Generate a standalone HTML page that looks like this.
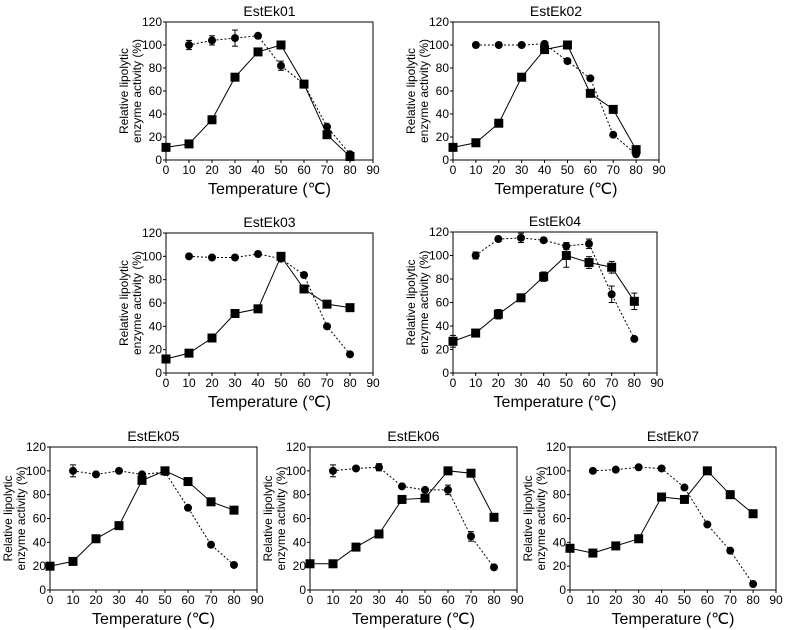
<!DOCTYPE html>
<html><head><meta charset="utf-8"><style>
html,body{margin:0;padding:0;background:#fff;}
svg{display:block;font-family:"Liberation Sans",Arial,sans-serif;}
</style></head><body>
<svg id="chart" width="786" height="630" viewBox="0 0 786 630" xmlns="http://www.w3.org/2000/svg"></svg>
<script>
const temps = [0,10,20,30,40,50,60,70,80];
const circleTemps = [10,20,30,40,50,60,70,80];
const xTicks = [0,10,20,30,40,50,60,70,80,90];
const yTicks = [0,20,40,60,80,100,120];
const titles = ["EstEk01","EstEk02","EstEk03","EstEk04","EstEk05","EstEk06","EstEk07"];
const squares01 = [11,14,35,72,94,100,66,22,3];
const circles01 = [100,104,106,108,82,66,29,5];
const squares02 = [11,15,32,72,96,100,58,44,9];
const circles02 = [100,100,100,101,86,71,22,5];
const squares03 = [12,17,30,51,55,100,72,59,56];
const circles03 = [100,99,99,102,98,84,40,16];
const squares04 = [27,34,50,64,82,100,94,90,61];
const circles04 = [100,114,115,113,108,110,67,29];
const squares05 = [20,24,43,54,92,100,91,74,67];
const circles05 = [100,97,100,97,99,69,38,21];
const squares06 = [22,22,36,47,76,77,100,98,61];
const circles06 = [100,102,103,87,84,84,45,19];
const squares07 = [35,31,37,43,78,76,100,80,64];
const circles07 = [100,101,103,102,86,55,33,5];
const sqErr04 = [5,2,4,2,4,10,5,5,7];
const ciErr04 = [3,2,4,2,3,4,7,0];
const ciErr01 = [4,4,7,2,4,0,0,0];
const ciErr05 = [5,0,0,0,0,0,0,0];
const ciErr06 = [5,2,3,0,0,4,4,0];

const panels = [
 {x0:166,x1:373,y0:160,y1:22,sq:squares01,ci:circles01,ce:ciErr01},
 {x0:453,x1:659,y0:160,y1:22,sq:squares02,ci:circles02},
 {x0:166,x1:373,y0:373,y1:233,sq:squares03,ci:circles03},
 {x0:453,x1:657,y0:373,y1:232,sq:squares04,ci:circles04,se:sqErr04,ce:ciErr04},
 {x0:50,x1:257,y0:590,y1:447,sq:squares05,ci:circles05,ce:ciErr05},
 {x0:310,x1:517,y0:590,y1:447,sq:squares06,ci:circles06,ce:ciErr06},
 {x0:570,x1:776,y0:590,y1:447,sq:squares07,ci:circles07}
];
const svg = document.getElementById('chart');
const NS = "http://www.w3.org/2000/svg";
function mk(tag, attrs, parent){const e=document.createElementNS(NS,tag);for(const k in attrs)e.setAttribute(k,attrs[k]);parent.appendChild(e);return e;}

panels.forEach((p,i)=>{
  const g = mk('g',{},svg);
  
  
  const xs = v=>p.x0+(v/90)*(p.x1-p.x0);
  const ys = v=>p.y0-(v/120)*(p.y0-p.y1);
  const box = mk('rect',{x:p.x0,y:p.y1,width:p.x1-p.x0,height:p.y0-p.y1,fill:'none',stroke:'#000','stroke-width':1},g);
  
  
  const t = mk('text',{x:(p.x0+p.x1)/2,y:p.y1-6,'text-anchor':'middle','font-size':14},g);
  t.textContent = titles[i];
  
  
  xTicks.forEach(v=>{
    mk('line',{x1:xs(v),x2:xs(v),y1:p.y0,y2:p.y0+3,stroke:'#000'},g);
    const l = mk('text',{x:xs(v),y:p.y0+14,'text-anchor':'middle','font-size':12},g);
    l.textContent = v;
    
    
  });
  yTicks.forEach(v=>{
    mk('line',{x1:p.x0-3,x2:p.x0,y1:ys(v),y2:ys(v),stroke:'#000'},g);
    const l = mk('text',{x:p.x0-4,y:ys(v)+4,'text-anchor':'end','font-size':12},g);
    l.textContent = v;
    
    
  });
  const xt = mk('text',{x:(p.x0+p.x1)/2,y:p.y0+34,'text-anchor':'middle','font-size':16},g);
  xt.textContent = 'Temperature (\u2103)';
  
  
  const cy = (p.y0+p.y1)/2;
  const yt = mk('text',{transform:`translate(${p.x0-38},${cy}) rotate(-90)`,'text-anchor':'middle','font-size':12},g);
  
  
  const t1 = mk('tspan',{x:0,y:0},yt); t1.textContent='Relative lipolytic';
  const t2 = mk('tspan',{x:0,y:13},yt); t2.textContent='enzyme activity (%)';
  // circles series
  const cl = mk('polyline',{points:circleTemps.map((v,j)=>xs(v)+','+ys(p.ci[j])).join(' '),fill:'none',stroke:'#000','stroke-width':1,'stroke-dasharray':'2,2'},g);
  
  
  const sl = mk('polyline',{points:temps.map((v,j)=>xs(v)+','+ys(p.sq[j])).join(' '),fill:'none',stroke:'#000','stroke-width':1},g);
  
  
  function err(x,v,e){ if(!e) return; const a=ys(v+e), b=ys(v-e);
    mk('line',{x1:x,x2:x,y1:a,y2:b,stroke:'#000'},g);
    mk('line',{x1:x-3,x2:x+3,y1:a,y2:a,stroke:'#000'},g);
    mk('line',{x1:x-3,x2:x+3,y1:b,y2:b,stroke:'#000'},g);}
  circleTemps.forEach((v,j)=>{
    if(p.ce) err(xs(v),p.ci[j],p.ce[j]);
    const c = mk('circle',{cx:xs(v),cy:ys(p.ci[j]),r:4,fill:'#000'},g);
    
    
  });
  temps.forEach((v,j)=>{
    if(p.se) err(xs(v),p.sq[j],p.se[j]);
    const r = mk('rect',{x:xs(v)-4.5,y:ys(p.sq[j])-4.5,width:9,height:9,fill:'#000'},g);
    
    
  });
});
</script>
</body></html>
